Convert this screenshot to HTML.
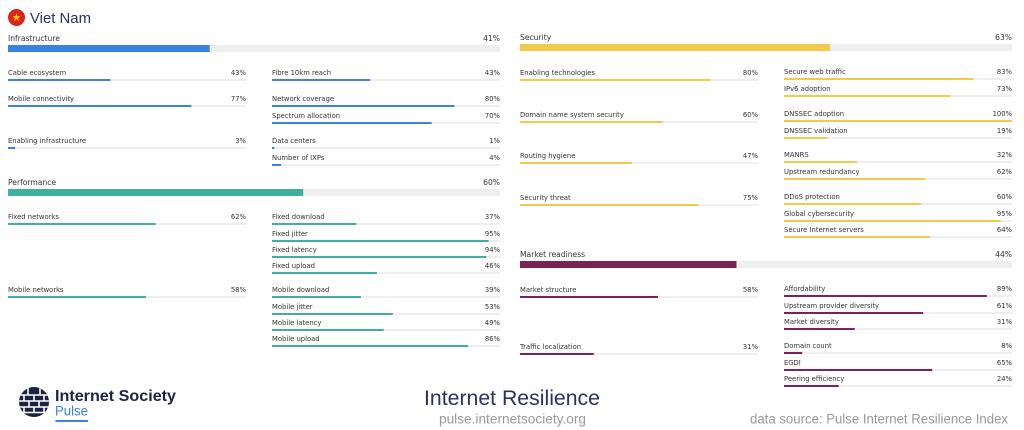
<!DOCTYPE html>
<html><head><meta charset="utf-8"><style>
html,body{margin:0;padding:0;background:#fff;width:1024px;height:430px;overflow:hidden}
svg{display:block}
.t{font-family:"DejaVu Sans","Liberation Sans",sans-serif;fill:#333}
.s{font-size:6.8px}
.m{font-size:7.6px}
.r{text-anchor:end}
</style></head><body>
<svg width="1024" height="430" viewBox="0 0 1024 430" xmlns="http://www.w3.org/2000/svg">
<!-- header -->
<circle cx="16.5" cy="17.5" r="8.5" fill="#da251d"/>
<polygon points="16.5,13.3 17.5,16.3 20.6,16.3 18.1,18.1 19.1,21.1 16.5,19.3 13.9,21.1 14.9,18.1 12.4,16.3 15.5,16.3" fill="#ffcd00"/>
<text x="30" y="23" font-family="Liberation Sans, sans-serif" font-size="15" fill="#28316a" textLength="61" lengthAdjust="spacingAndGlyphs">Viet Nam</text>

<!-- ===== Infrastructure ===== -->
<g class="t">
<text class="m" x="8" y="41">Infrastructure</text><text class="m r" x="500" y="41">41%</text>
<rect x="8" y="45" width="492" height="7" fill="#eee"/><rect x="8" y="45" width="201.7" height="7" fill="#3a82e2"/>

<text class="s" x="8" y="75">Cable ecosystem</text><text class="s r" x="246" y="75">43%</text>
<rect x="8" y="79" width="238" height="2" fill="#eee"/><rect x="8" y="79" width="102.3" height="2" fill="#3a82e2"/>
<text class="s" x="8" y="101">Mobile connectivity</text><text class="s r" x="246" y="101">77%</text>
<rect x="8" y="105" width="238" height="2" fill="#eee"/><rect x="8" y="105" width="183.3" height="2" fill="#3a82e2"/>
<text class="s" x="8" y="143">Enabling infrastructure</text><text class="s r" x="246" y="143">3%</text>
<rect x="8" y="147" width="238" height="2" fill="#eee"/><rect x="8" y="147" width="7.1" height="2" fill="#3a82e2"/>

<text class="s" x="272" y="75">Fibre 10km reach</text><text class="s r" x="500" y="75">43%</text>
<rect x="272" y="79" width="228" height="2" fill="#eee"/><rect x="272" y="79" width="98" height="2" fill="#3a82e2"/>
<text class="s" x="272" y="101">Network coverage</text><text class="s r" x="500" y="101">80%</text>
<rect x="272" y="105" width="228" height="2" fill="#eee"/><rect x="272" y="105" width="182.4" height="2" fill="#3a82e2"/>
<text class="s" x="272" y="118">Spectrum allocation</text><text class="s r" x="500" y="118">70%</text>
<rect x="272" y="122" width="228" height="2" fill="#eee"/><rect x="272" y="122" width="159.6" height="2" fill="#3a82e2"/>
<text class="s" x="272" y="143">Data centers</text><text class="s r" x="500" y="143">1%</text>
<rect x="272" y="147" width="228" height="2" fill="#eee"/><rect x="272" y="147" width="2.3" height="2" fill="#3a82e2"/>
<text class="s" x="272" y="160">Number of IXPs</text><text class="s r" x="500" y="160">4%</text>
<rect x="272" y="164" width="228" height="2" fill="#eee"/><rect x="272" y="164" width="9.1" height="2" fill="#3a82e2"/>

<!-- ===== Performance ===== -->
<text class="m" x="8" y="185">Performance</text><text class="m r" x="500" y="185">60%</text>
<rect x="8" y="189" width="492" height="7" fill="#eee"/><rect x="8" y="189" width="295.2" height="7" fill="#3fb0a0"/>

<text class="s" x="8" y="219">Fixed networks</text><text class="s r" x="246" y="219">62%</text>
<rect x="8" y="223" width="238" height="2" fill="#eee"/><rect x="8" y="223" width="147.6" height="2" fill="#3fb0a0"/>
<text class="s" x="8" y="292">Mobile networks</text><text class="s r" x="246" y="292">58%</text>
<rect x="8" y="296" width="238" height="2" fill="#eee"/><rect x="8" y="296" width="138" height="2" fill="#3fb0a0"/>

<text class="s" x="272" y="219">Fixed download</text><text class="s r" x="500" y="219">37%</text>
<rect x="272" y="223" width="228" height="2" fill="#eee"/><rect x="272" y="223" width="84.4" height="2" fill="#3fb0a0"/>
<text class="s" x="272" y="236">Fixed jitter</text><text class="s r" x="500" y="236">95%</text>
<rect x="272" y="240" width="228" height="2" fill="#eee"/><rect x="272" y="240" width="216.6" height="2" fill="#3fb0a0"/>
<text class="s" x="272" y="252">Fixed latency</text><text class="s r" x="500" y="252">94%</text>
<rect x="272" y="256" width="228" height="2" fill="#eee"/><rect x="272" y="256" width="214.3" height="2" fill="#3fb0a0"/>
<text class="s" x="272" y="268">Fixed upload</text><text class="s r" x="500" y="268">46%</text>
<rect x="272" y="272" width="228" height="2" fill="#eee"/><rect x="272" y="272" width="104.9" height="2" fill="#3fb0a0"/>
<text class="s" x="272" y="292">Mobile download</text><text class="s r" x="500" y="292">39%</text>
<rect x="272" y="296" width="228" height="2" fill="#eee"/><rect x="272" y="296" width="88.9" height="2" fill="#3fb0a0"/>
<text class="s" x="272" y="309">Mobile jitter</text><text class="s r" x="500" y="309">53%</text>
<rect x="272" y="313" width="228" height="2" fill="#eee"/><rect x="272" y="313" width="120.8" height="2" fill="#3fb0a0"/>
<text class="s" x="272" y="325">Mobile latency</text><text class="s r" x="500" y="325">49%</text>
<rect x="272" y="329" width="228" height="2" fill="#eee"/><rect x="272" y="329" width="111.7" height="2" fill="#3fb0a0"/>
<text class="s" x="272" y="341">Mobile upload</text><text class="s r" x="500" y="341">86%</text>
<rect x="272" y="345" width="228" height="2" fill="#eee"/><rect x="272" y="345" width="196.1" height="2" fill="#3fb0a0"/>

<!-- ===== Security ===== -->
<text class="m" x="520" y="40">Security</text><text class="m r" x="1012" y="40">63%</text>
<rect x="520" y="44" width="492" height="7" fill="#eee"/><rect x="520" y="44" width="310" height="7" fill="#f2c94c"/>

<text class="s" x="520" y="75">Enabling technologies</text><text class="s r" x="758" y="75">80%</text>
<rect x="520" y="79" width="238" height="2" fill="#eee"/><rect x="520" y="79" width="190.4" height="2" fill="#f2c94c"/>
<text class="s" x="520" y="117">Domain name system security</text><text class="s r" x="758" y="117">60%</text>
<rect x="520" y="121" width="238" height="2" fill="#eee"/><rect x="520" y="121" width="142.8" height="2" fill="#f2c94c"/>
<text class="s" x="520" y="158">Routing hygiene</text><text class="s r" x="758" y="158">47%</text>
<rect x="520" y="162" width="238" height="2" fill="#eee"/><rect x="520" y="162" width="111.9" height="2" fill="#f2c94c"/>
<text class="s" x="520" y="200">Security threat</text><text class="s r" x="758" y="200">75%</text>
<rect x="520" y="204" width="238" height="2" fill="#eee"/><rect x="520" y="204" width="178.5" height="2" fill="#f2c94c"/>

<text class="s" x="784" y="74">Secure web traffic</text><text class="s r" x="1012" y="74">83%</text>
<rect x="784" y="78" width="228" height="2" fill="#eee"/><rect x="784" y="78" width="189.2" height="2" fill="#f2c94c"/>
<text class="s" x="784" y="91">IPv6 adoption</text><text class="s r" x="1012" y="91">73%</text>
<rect x="784" y="95" width="228" height="2" fill="#eee"/><rect x="784" y="95" width="166.4" height="2" fill="#f2c94c"/>
<text class="s" x="784" y="116">DNSSEC adoption</text><text class="s r" x="1012" y="116">100%</text>
<rect x="784" y="120" width="228" height="2" fill="#eee"/><rect x="784" y="120" width="228" height="2" fill="#f2c94c"/>
<text class="s" x="784" y="133">DNSSEC validation</text><text class="s r" x="1012" y="133">19%</text>
<rect x="784" y="137" width="228" height="2" fill="#eee"/><rect x="784" y="137" width="43.3" height="2" fill="#f2c94c"/>
<text class="s" x="784" y="157">MANRS</text><text class="s r" x="1012" y="157">32%</text>
<rect x="784" y="161" width="228" height="2" fill="#eee"/><rect x="784" y="161" width="73" height="2" fill="#f2c94c"/>
<text class="s" x="784" y="174">Upstream redundancy</text><text class="s r" x="1012" y="174">62%</text>
<rect x="784" y="178" width="228" height="2" fill="#eee"/><rect x="784" y="178" width="141.4" height="2" fill="#f2c94c"/>
<text class="s" x="784" y="199">DDoS protection</text><text class="s r" x="1012" y="199">60%</text>
<rect x="784" y="203" width="228" height="2" fill="#eee"/><rect x="784" y="203" width="136.8" height="2" fill="#f2c94c"/>
<text class="s" x="784" y="216">Global cybersecurity</text><text class="s r" x="1012" y="216">95%</text>
<rect x="784" y="220" width="228" height="2" fill="#eee"/><rect x="784" y="220" width="216.6" height="2" fill="#f2c94c"/>
<text class="s" x="784" y="232">Secure Internet servers</text><text class="s r" x="1012" y="232">64%</text>
<rect x="784" y="236" width="228" height="2" fill="#eee"/><rect x="784" y="236" width="145.9" height="2" fill="#f2c94c"/>

<!-- ===== Market readiness ===== -->
<text class="m" x="520" y="257">Market readiness</text><text class="m r" x="1012" y="257">44%</text>
<rect x="520" y="261" width="492" height="7" fill="#eee"/><rect x="520" y="261" width="216.5" height="7" fill="#7f2159"/>

<text class="s" x="520" y="292">Market structure</text><text class="s r" x="758" y="292">58%</text>
<rect x="520" y="296" width="238" height="2" fill="#eee"/><rect x="520" y="296" width="138" height="2" fill="#7f2159"/>
<text class="s" x="520" y="349">Traffic localization</text><text class="s r" x="758" y="349">31%</text>
<rect x="520" y="353" width="238" height="2" fill="#eee"/><rect x="520" y="353" width="73.8" height="2" fill="#7f2159"/>

<text class="s" x="784" y="291">Affordability</text><text class="s r" x="1012" y="291">89%</text>
<rect x="784" y="295" width="228" height="2" fill="#eee"/><rect x="784" y="295" width="202.9" height="2" fill="#7f2159"/>
<text class="s" x="784" y="308">Upstream provider diversity</text><text class="s r" x="1012" y="308">61%</text>
<rect x="784" y="312" width="228" height="2" fill="#eee"/><rect x="784" y="312" width="139.1" height="2" fill="#7f2159"/>
<text class="s" x="784" y="324">Market diversity</text><text class="s r" x="1012" y="324">31%</text>
<rect x="784" y="328" width="228" height="2" fill="#eee"/><rect x="784" y="328" width="70.7" height="2" fill="#7f2159"/>
<text class="s" x="784" y="348">Domain count</text><text class="s r" x="1012" y="348">8%</text>
<rect x="784" y="352" width="228" height="2" fill="#eee"/><rect x="784" y="352" width="18.2" height="2" fill="#7f2159"/>
<text class="s" x="784" y="365">EGDI</text><text class="s r" x="1012" y="365">65%</text>
<rect x="784" y="369" width="228" height="2" fill="#eee"/><rect x="784" y="369" width="148.2" height="2" fill="#7f2159"/>
<text class="s" x="784" y="381">Peering efficiency</text><text class="s r" x="1012" y="381">24%</text>
<rect x="784" y="385" width="228" height="2" fill="#eee"/><rect x="784" y="385" width="54.7" height="2" fill="#7f2159"/>
</g>

<!-- ===== footer ===== -->
<defs><clipPath id="gc"><circle cx="34" cy="402" r="15"/></clipPath></defs>
<circle cx="34" cy="402" r="15" fill="#1b2340"/>
<g clip-path="url(#gc)" stroke="#fff" stroke-width="1.6" fill="none">
<line x1="15" y1="395" x2="53" y2="395"/>
<line x1="15" y1="401" x2="53" y2="401"/>
<line x1="15" y1="407" x2="53" y2="407"/>
<line x1="15" y1="412.5" x2="53" y2="412.5"/>
<line x1="28" y1="388" x2="28" y2="395"/>
<line x1="40" y1="388" x2="40" y2="395"/>
<line x1="24" y1="395" x2="24" y2="401"/>
<line x1="34" y1="395" x2="34" y2="401"/>
<line x1="44" y1="395" x2="44" y2="401"/>
<line x1="29" y1="401" x2="29" y2="407"/>
<line x1="39" y1="401" x2="39" y2="407"/>
<line x1="24" y1="407" x2="24" y2="412.5"/>
<line x1="34" y1="407" x2="34" y2="412.5"/>
<line x1="44" y1="407" x2="44" y2="412.5"/>
</g>
<text x="55" y="401" font-family="Liberation Sans, sans-serif" font-size="16" font-weight="bold" fill="#1b2340" textLength="121" lengthAdjust="spacingAndGlyphs">Internet Society</text>
<text x="55" y="415.5" font-family="Liberation Sans, sans-serif" font-size="13.5" fill="#3b82e0" textLength="33" lengthAdjust="spacingAndGlyphs">Pulse</text>
<rect x="55.5" y="420" width="32.5" height="2" fill="#3b82e0"/>

<text x="424" y="405" font-family="Liberation Sans, sans-serif" font-size="21" fill="#2b3060" textLength="176" lengthAdjust="spacingAndGlyphs">Internet Resilience</text>
<text x="439" y="423.5" font-family="Liberation Sans, sans-serif" font-size="13.5" fill="#999" textLength="147" lengthAdjust="spacingAndGlyphs">pulse.internetsociety.org</text>
<text x="750" y="423.5" font-family="Liberation Sans, sans-serif" font-size="13.5" fill="#999" textLength="258" lengthAdjust="spacingAndGlyphs">data source: Pulse Internet Resilience Index</text>
</svg>
</body></html>
